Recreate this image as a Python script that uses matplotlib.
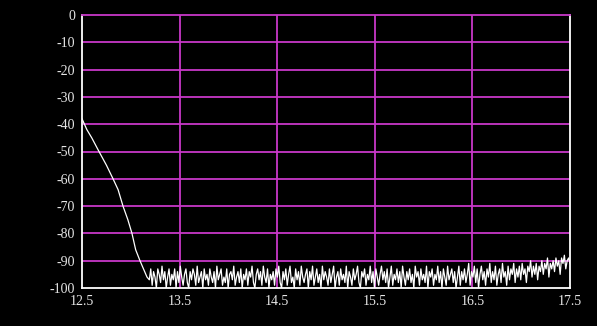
import matplotlib.pyplot as plt
import numpy as np

plt.rcParams['axes.unicode_minus'] = False

# descent from the passband edge
edge_x = [12.5, 12.55, 12.6, 12.674, 12.75, 12.818, 12.87, 12.92, 12.97, 13.012, 13.05, 13.094, 13.13, 13.166]
edge_y = [-38, -42, -45, -50, -55, -60, -64, -70, -75, -80, -86, -90, -93, -96]

# noise floor samples, 13.17 .. 17.5
noise = [
    -97, -93, -99, -94, -96, -100, -93, -95, -98, -92, -97, -94, -100, -96, -93, -99, -95, -97, -93, -100,
    -94, -98, -92, -96, -99, -95, -93, -98, -100, -94, -97, -93, -95, -99, -92, -98, -96, -94, -100, -93,
    -97, -95, -99, -93, -96, -98, -94, -100, -92, -97, -95, -93, -99, -96, -98, -93, -100, -95, -94, -97,
    -92, -99, -96, -94, -98, -93, -100, -95, -97, -93, -99, -94, -96, -92, -98, -100, -95, -93, -97, -94,
    -99, -92, -96, -98, -93, -100, -95, -97, -94, -99, -93, -96, -92, -98, -100, -94, -97, -93, -99, -95,
    -92, -98, -96, -100, -93, -97, -94, -99, -92, -96, -98, -95, -93, -100, -94, -97, -92, -99, -96, -93,
    -98, -95, -100, -92, -97, -94, -96, -99, -93, -98, -95, -92, -100, -96, -94, -99, -93, -97, -95, -98,
    -92, -100, -94, -96, -99, -93, -97, -95, -92, -98, -100, -94, -96, -93, -99, -95, -97, -92, -98, -94,
    -100, -93, -96, -99, -95, -92, -97, -94, -98, -93, -100, -96, -92, -99, -95, -97, -93, -98, -94, -100,
    -92, -96, -99, -94, -97, -93, -98, -95, -100, -92, -96, -94, -99, -93, -97, -95, -98, -92, -100, -94,
    -96, -93, -99, -95, -97, -92, -98, -94, -100, -93, -96, -99, -92, -97, -95, -93, -98, -94, -100, -96,
    -92, -99, -94, -97, -93, -98, -95, -91, -99, -94, -96, -92, -98, -93, -100, -95, -92, -97, -94, -99,
    -93, -96, -91, -98, -94, -97, -92, -99, -95, -93, -98, -91, -96, -94, -99, -92, -97, -93, -95, -91,
    -98, -93, -96, -92, -97, -91, -95, -93, -98, -92, -94, -90, -96, -92, -95, -91, -97, -92, -94, -90,
    -95, -91, -93, -89, -96, -91, -93, -90, -94, -89, -92, -90, -95, -89, -91, -88, -93, -90, -89, -91,
]

xticks = [12.5, 13.5, 14.5, 15.5, 16.5, 17.5]
yticks = [0, -10, -20, -30, -40, -50, -60, -70, -80, -90, -100]

noise_x = np.linspace(13.19, 17.5, len(noise))
x = np.concatenate([edge_x, noise_x])
y = np.concatenate([edge_y, noise])

fig = plt.figure(figsize=(5.97, 3.26), dpi=100, facecolor='black')
ax = fig.add_axes([82/597, 38/326, 488/597, 273/326], facecolor='black')

grid_col = '#c838c8'
for xv in xticks[1:-1]:
    ax.axvline(xv, color=grid_col, lw=1.3, zorder=1)
for yv in yticks[1:-1]:
    ax.axhline(yv, color=grid_col, lw=1.3, zorder=1)

ax.plot(x, y, color='white', lw=0.9, zorder=3)

ax.set_xlim(12.5, 17.5)
ax.set_ylim(-100, 0)
ax.set_xticks(xticks)
ax.set_xticklabels([str(v) for v in xticks])
ax.set_yticks(yticks)
ax.set_yticklabels([str(v) for v in yticks])
ax.tick_params(length=0, colors='#e6e6e6', labelsize=10, pad=5)
for lab in ax.get_xticklabels() + ax.get_yticklabels():
    lab.set_family('Liberation Serif')

for s in ['left', 'bottom', 'right']:
    ax.spines[s].set_color('white')
    ax.spines[s].set_linewidth(1.3)
ax.spines['top'].set_color(grid_col)
ax.spines['top'].set_linewidth(1.3)

plt.savefig('out.png', dpi=100, facecolor='black')
